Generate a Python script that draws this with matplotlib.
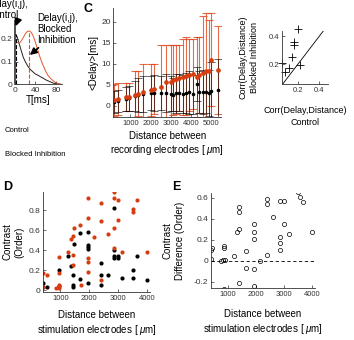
import numpy as np
import matplotlib
matplotlib.use('Agg')
import matplotlib.pyplot as plt

plt.rcParams['font.family'] = ['Liberation Sans', 'DejaVu Sans']
plt.rcParams['mathtext.fontset'] = 'custom'
plt.rcParams['mathtext.it'] = 'Liberation Sans:italic'

RED = '#D95319'
RED_BAR = '#E0461C'

# panel A: delay distributions
t_ctrl = [0, 4, 8, 12, 16, 20, 25, 30, 35, 40, 45, 50, 55, 60, 65, 70, 75, 80, 85, 90]
p_ctrl = [0.22, 0.21, 0.18, 0.15, 0.12, 0.10, 0.08, 0.065, 0.055, 0.045, 0.04,
          0.033, 0.027, 0.02, 0.015, 0.01, 0.005, 0.003, 0.001, 0.0]
t_blk = [0, 4, 8, 12, 16, 20, 24, 28, 32, 36, 40, 44, 48, 52, 56, 60, 65, 70, 75, 80, 85, 90]
p_blk = [0.195, 0.185, 0.18, 0.19, 0.205, 0.222, 0.232, 0.235, 0.228, 0.21, 0.185,
         0.155, 0.125, 0.10, 0.078, 0.058, 0.038, 0.025, 0.015, 0.007, 0.003, 0.0]
delay_ctrl = 1
delay_blk = 28

# panel C: mean delay vs recording distance
c_dist = [200, 400, 800, 950, 1250, 1400, 1650, 2000, 2150, 2500, 2750, 3000, 3100,
          3250, 3400, 3600, 3750, 3900, 4100, 4300, 4400, 4600, 4750, 4900, 5000, 5350]
c_red = [1.4, 1.6, 2.1, 2.1, 2.6, 2.9, 3.4, 3.8, 4.0, 4.6, 5.8, 5.8, 6.2, 6.3, 6.6,
         6.8, 7.1, 7.4, 7.6, 6.8, 7.4, 7.8, 8.2, 8.4, 11.0, 8.6]
c_red_err = [3.9, 3.8, 3.4, 3.4, 5.6, 5.3, 6.6, 6.2, 6.0, 9.9, 8.7, 8.7, 8.3, 8.2,
             7.9, 9.0, 9.2, 8.6, 8.4, 9.5, 9.0, 13.5, 13.8, 12.0, 11.0, 10.4]
c_blk = [1.0, 1.2, 1.6, 1.8, 2.3, 2.6, 2.8, 3.0, 3.1, 3.0, 3.1, 2.9, 2.7, 3.0, 3.1,
         2.9, 3.1, 3.2, 2.8, 5.2, 3.3, 3.4, 3.3, 3.1, 3.5, 3.9]
c_blk_err = [2.6, 2.6, 2.8, 3.0, 3.6, 4.0, 4.2, 4.0, 4.3, 4.0, 4.5, 4.2, 4.0, 4.6, 4.4,
             4.5, 4.7, 5.0, 4.6, 4.0, 5.0, 5.2, 5.0, 5.4, 7.0, 7.2]

# panel C inset: correlation per culture
corr_ctrl = [0.203, 0.159, 0.159, 0.146, 0.05, 0.114, 0.076, 0.219]
corr_blk = [0.448, 0.36, 0.336, 0.248, 0.205, 0.169, 0.145, 0.193]

# panel D: contrast vs stimulation distance
d_red_x = [400, 531, 400, 944, 968, 850, 944, 944, 1263, 1440, 1440, 1440, 1381, 1464,
           1676, 1700, 1971, 1971, 1971, 1971, 1971, 2148, 2420, 2420, 2420, 2632,
           2868, 2868, 2868, 2868, 3010, 3010, 3127, 3505, 3528, 3647, 4000]
d_red_y = [0.173, 0.157, 0.03, 0.33, 0.173, 0.023, 0.05, 0.023, 0.377, 0.35, 0.257,
           0.54, 0.51, 0.617, 0.65, 0.05, 0.923, 0.717, 0.323, 0.283, 0.183, 0.527,
           0.867, 0.693, 0.1, 0.563, 0.983, 0.917, 0.617, 0.417, 0.897, 0.7, 0.38,
           0.783, 0.807, 0.897, 0.377]
d_blk_x = [400, 400, 531, 944, 944, 1263, 1357, 1440, 1440, 1440, 1464, 1676, 1676,
           1971, 1971, 1971, 1971, 1971, 2420, 2420, 2420, 2632, 2868, 2868, 2868,
           3010, 2868, 3010, 3127, 3505, 3528, 3647, 4000]
d_blk_y = [0.073, 0.03, 0.03, 0.207, 0.04, 0.34, 0.24, 0.157, 0.05, 0.033, 0.463,
           0.567, 0.117, 0.577, 0.45, 0.427, 0.407, 0.077, 0.277, 0.157, 0.05, 0.157,
           0.817, 0.4, 0.343, 0.343, 0.323, 0.323, 0.123, 0.123, 0.2, 0.34, 0.1]

# panel E: contrast difference
e_x = [400, 400, 450, 760, 820, 880, 880, 900, 880, 1220, 1330, 1390, 1390, 1390, 1390,
       1630, 1630, 1920, 1920, 1920, 1920, 1920, 2130, 2400, 2400, 2400, 2620, 2870,
       3010, 2870, 2870, 2870, 3010, 3160, 3500, 3560, 3680, 4000]
e_y = [0.10, 0.015, 0.125, 0.0, 0.01, 0.125, 0.14, 0.01, -0.27, 0.045, 0.27, 0.30,
       0.515, 0.47, -0.21, 0.09, -0.07, 0.35, 0.27, 0.21, -0.08, -0.245, 0.0, 0.59,
       0.545, 0.055, 0.415, 0.57, 0.575, 0.23, 0.17, 0.10, 0.35, 0.26, 0.655, 0.61,
       0.56, 0.275]

W, H = 354, 340
fig = plt.figure(figsize=(W / 100, H / 100), dpi=100)


def box(l, t, r, b):
    return [l / W, 1 - b / H, (r - l) / W, (b - t) / H]


def style(ax, fs=5.5):
    ax.spines['top'].set_visible(False)
    ax.spines['right'].set_visible(False)
    for s in ['left', 'bottom']:
        ax.spines[s].set_linewidth(0.6)
        ax.spines[s].set_color('#333333')
    ax.tick_params(direction='in', length=2, width=0.5, labelsize=fs, pad=2,
                   colors='#333333')


# ---- A
axA = fig.add_axes(box(15, 20.7, 62, 84.3))
axA.plot(t_ctrl, p_ctrl, color='#222222', lw=0.7)
axA.plot(t_blk, p_blk, color='#E2562A', lw=0.7)
axA.plot([delay_ctrl, delay_ctrl], [0, 0.22], '--', color='black', lw=0.8)
axA.plot([delay_blk, delay_blk], [0, 0.235], '--', color=RED, lw=0.8)
axA.set_xlim(0, 92)
axA.set_ylim(0, 0.28)
axA.set_xticks([0, 40, 80])
axA.set_yticks([0, 0.1, 0.2])
axA.set_yticklabels(['0', '0.1', '0.2'])
style(axA, 6)
axA.spines['left'].set_linewidth(1.2)
axA.set_xlabel('T[ms]', fontsize=7, labelpad=1)
axA.annotate('Delay(i,j),\nControl', xy=(delay_ctrl, 0.255), xytext=(-54, 0.285),
             fontsize=7, ha='left', va='bottom', linespacing=1.05,
             annotation_clip=False,
             arrowprops=dict(arrowstyle='-|>', color='black', lw=1.4, mutation_scale=10,
                             shrinkA=0, shrinkB=0, relpos=(0.75, 0)))
axA.annotate('Delay(i,j),\nBlocked\nInhibition', xy=(29, 0.129), xytext=(43, 0.173),
             fontsize=7, ha='left', va='bottom', linespacing=1.15,
             annotation_clip=False,
             arrowprops=dict(arrowstyle='-|>', color='black', lw=1.2, mutation_scale=10,
                             shrinkA=0, shrinkB=0, relpos=(0.12, 0)))

fig.text(5 / W, 1 - 131 / H, 'Control', fontsize=5.5, va='center')
fig.text(5 / W, 1 - 155 / H, 'Blocked Inhibition', fontsize=5.5, va='center')

# ---- C main
axC = fig.add_axes(box(113.3, 8.3, 221, 117.3))
axC.errorbar(c_dist, c_red, yerr=c_red_err, fmt='none', ecolor=RED_BAR, elinewidth=0.8,
             capsize=3, capthick=0.8, alpha=0.8)
axC.errorbar(c_dist, c_blk, yerr=c_blk_err, fmt='none', ecolor='black', elinewidth=0.6,
             capsize=3, capthick=0.6, alpha=0.7)
axC.plot(c_dist, c_blk, 'o', color='black', ms=2.6, mec='none')
axC.plot(c_dist, c_red, 'o', color='#D63E12', ms=3.4, mec='none')
axC.set_xlim(150, 5500)
axC.set_ylim(-2.7, 23.2)
axC.set_xticks([1000, 2000, 3000, 4000, 5000])
axC.set_yticks([0, 5, 10, 15, 20])
style(axC, 5.5)
axC.tick_params(axis='y', labelsize=6)
axC.set_ylabel('<Delay>[ms]', fontsize=7, labelpad=2)
axC.set_xlabel('Distance between\nrecording electrodes [ $\\mu$m]', fontsize=7,
               labelpad=3, linespacing=1.2)

# ---- C inset
axI = fig.add_axes(box(282, 31, 328, 84))
axI.plot([0, 0.5], [0, 0.5], color='black', lw=0.6)
axI.plot(corr_ctrl, corr_blk, '+', color='black', ms=6, mew=0.6, clip_on=False)
axI.set_xlim(0.05, 0.48)
axI.set_ylim(0.057, 0.436)
axI.set_xticks([0.2, 0.4])
axI.set_yticks([0.2, 0.4])
style(axI, 5.5)
axI.set_xlabel('Corr(Delay,Distance)\nControl', fontsize=6.5, labelpad=9,
               linespacing=1.35)
axI.set_ylabel('Corr(Delay,Distance)\nBlocked Inhibition', fontsize=6.5, labelpad=7,
               linespacing=1.3)

# ---- D
axD = fig.add_axes(box(43, 192, 150, 292))
axD.plot(d_blk_x, d_blk_y, 'o', color='black', ms=3, mec='none')
axD.plot(d_red_x, d_red_y, 'o', color='#D63E12', ms=3, mec='none')
axD.set_xlim(400, 4100)
axD.set_ylim(-0.017, 0.98)
axD.set_xticks([1000, 2000, 3000, 4000])
axD.set_yticks([0, 0.2, 0.4, 0.6, 0.8])
axD.set_yticklabels(['0', '0.2', '0.4', '0.6', '0.8'])
style(axD, 5.5)
axD.tick_params(axis='y', labelsize=6)
axD.set_ylabel('Contrast\n(Order)', fontsize=7, labelpad=3, linespacing=1.2)
axD.set_xlabel('Distance between\nstimulation electrodes [ $\\mu$m]', fontsize=7,
               labelpad=6, linespacing=1.3)

# ---- E
axE = fig.add_axes(box(211, 192.7, 315, 288.3))
axE.axhline(0, color='black', ls=(0, (4, 3)), lw=0.6)
axE.plot(e_x, e_y, 'o', mfc='none', mec='black', ms=3, mew=0.5)
axE.set_xlim(400, 4100)
axE.set_ylim(-0.263, 0.65)
axE.set_xticks([1000, 2000, 3000, 4000])
axE.set_yticks([-0.2, 0, 0.2, 0.4, 0.6])
axE.set_yticklabels(['-0.2', '0', '0.2', '0.4', '0.6'])
style(axE, 5.5)
axE.tick_params(axis='y', labelsize=6)
axE.set_ylabel('Contrast\nDifference (Order)', fontsize=7, labelpad=6, linespacing=1.3)
axE.set_xlabel('Distance between\nstimulation electrodes [ $\\mu$m]', fontsize=7,
               labelpad=8, linespacing=1.3)

fig.text(84 / W, 1 - 9 / H, 'C', fontsize=9, fontweight='bold', va='center')
fig.text(3 / W, 1 - 187 / H, 'D', fontsize=9, fontweight='bold', va='center')
fig.text(172 / W, 1 - 187 / H, 'E', fontsize=9, fontweight='bold', va='center')

fig.savefig('out.png', dpi=100)
